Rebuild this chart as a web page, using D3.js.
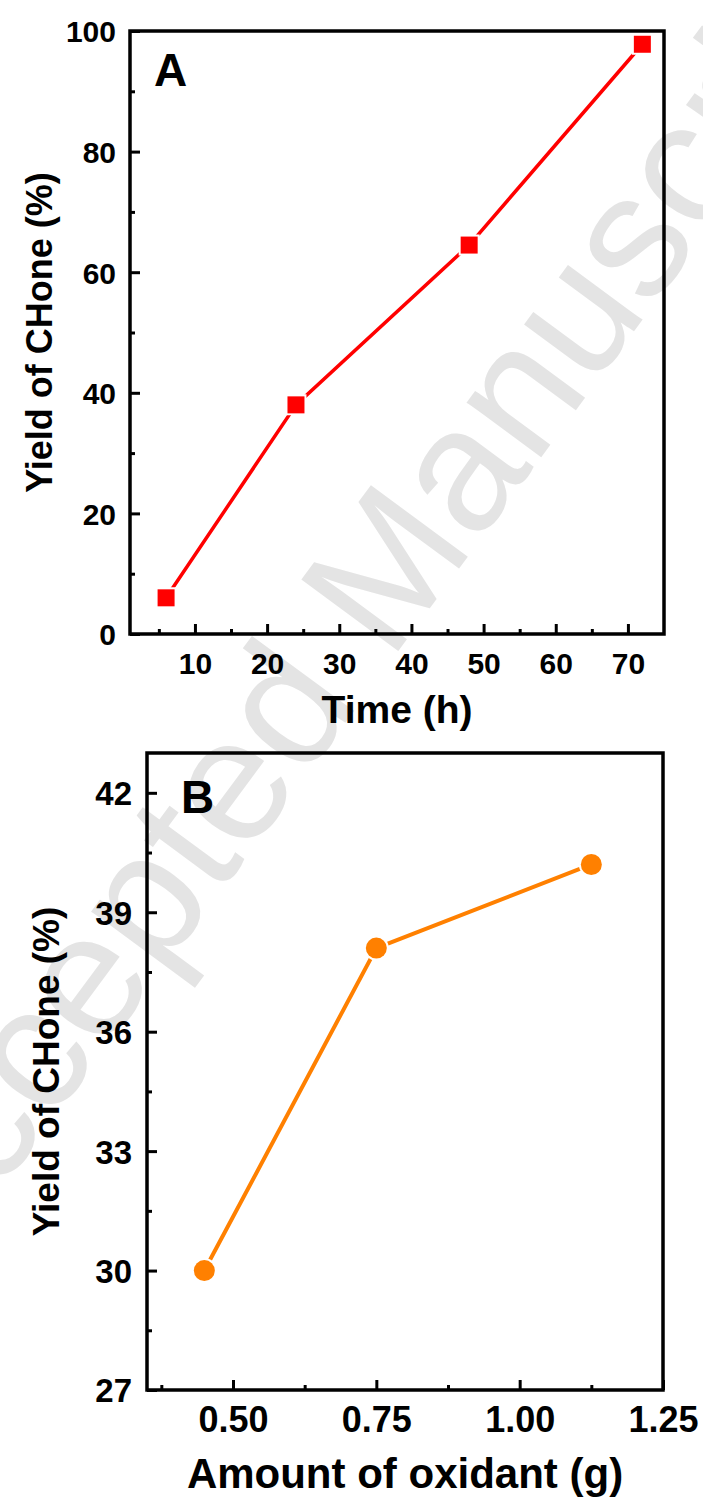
<!DOCTYPE html>
<html>
<head>
<meta charset="utf-8">
<script src="https://cdn.jsdelivr.net/npm/d3@7"></script>
<style>
  html, body { margin: 0; padding: 0; background: #fff; }
  svg { display: block; }
  text { font-family: Arial, "Liberation Sans", sans-serif; }
  .tick text { font-family: Arial, "Liberation Sans", sans-serif; font-weight: bold; fill: #000; }
  .ttl { font-weight: bold; fill: #000; }
</style>
</head>
<body>
<div id="chart"></div>
<script>
/* yield of CHone vs time (A) and vs amount of oxidant (B) */

const TIME_H = [6, 24, 48, 72];
const YIELD_BY_TIME = [6.0, 38.0, 64.5, 97.8];
const OXIDANT_G = [0.45, 0.75, 1.125];
const YIELD_BY_OXIDANT = [30.0, 38.1, 40.2];

const TIME_TICKS = [10, 20, 30, 40, 50, 60, 70];
const TIME_MINOR = [5, 15, 25, 35, 45, 55, 65];
const YA_TICKS = [0, 20, 40, 60, 80, 100];
const YA_MINOR = [10, 30, 50, 70, 90];
const OX_TICKS = [0.5, 0.75, 1.0, 1.25];
const OX_MINOR = [0.375, 0.625, 0.875, 1.125];
const YB_TICKS = [27, 30, 33, 36, 39, 42];
const YB_MINOR = [28.5, 31.5, 34.5, 37.5, 40.5];

const W = 703, H = 1500;
const RED = '#FF0000';
const ORANGE = '#FF8000';
const WATER = '#E4E4E4';

const svg = d3.select('#chart').append('svg')
  .attr('width', W).attr('height', H)
  .attr('viewBox', `0 0 ${W} ${H}`);

/* watermark sits under everything; starts off the left edge like the scan */
svg.append('text')
  .attr('transform', 'translate(-72,1289) rotate(-53.6)')
  .attr('font-size', 175)
  .attr('fill', WATER)
  .text('Accepted Manuscript');

function panel(o) {
  const g = svg.append('g');
  const x = d3.scaleLinear().domain(o.xDomain).range([o.left, o.right]);
  const y = d3.scaleLinear().domain(o.yDomain).range([o.bottom, o.top]);

  /* inward ticks, left and bottom only */
  const ax = (axis, sel) => sel.call(axis).call((s) => s.select('.domain').remove());
  ax(d3.axisBottom(x).tickValues(o.xMinor).tickSize(-5).tickFormat(''),
    g.append('g').attr('transform', `translate(0,${o.bottom})`));
  ax(d3.axisLeft(y).tickValues(o.yMinor).tickSize(-5).tickFormat(''),
    g.append('g').attr('transform', `translate(${o.left},0)`));

  const xa = g.append('g').attr('transform', `translate(0,${o.bottom})`);
  ax(d3.axisBottom(x).tickValues(o.xTicks).tickSize(-10).tickFormat(o.xFmt), xa);
  xa.selectAll('text').attr('font-size', o.xTickSize).attr('dy', 0)
    .attr('y', o.xLabelBase);

  const ya = g.append('g').attr('transform', `translate(${o.left},0)`);
  ax(d3.axisLeft(y).tickValues(o.yTicks).tickSize(-10).tickPadding(o.yPad)
    .tickFormat(d3.format('d')), ya);
  ya.selectAll('text').attr('font-size', o.yTickSize).attr('dy', '0.36em');

  g.selectAll('.tick line').attr('stroke', '#000').attr('stroke-width', 3);

  g.append('rect')
    .attr('x', o.left).attr('y', o.top)
    .attr('width', o.right - o.left).attr('height', o.bottom - o.top)
    .attr('fill', 'none').attr('stroke', '#000').attr('stroke-width', 3.5);

  const pts = o.xs.map((v, i) => [v, o.ys[i]]);
  g.append('path')
    .datum(pts)
    .attr('fill', 'none')
    .attr('stroke', o.color)
    .attr('stroke-width', o.lineW)
    .attr('d', d3.line().x((d) => x(d[0])).y((d) => y(d[1])));

  const sym = d3.symbol().type(o.marker).size(o.markerArea);
  g.append('g').selectAll('path').data(pts).join('path')
    .attr('transform', (d) => `translate(${x(d[0])},${y(d[1])})`)
    .attr('d', sym)
    .attr('fill', o.color)
    .attr('stroke', '#fff').attr('stroke-width', 4)
    .style('paint-order', 'stroke');

  /* panel letter */
  g.append('text').attr('class', 'ttl')
    .attr('x', o.letterX).attr('y', o.letterY)
    .attr('font-size', 46).text(o.letter);

  g.append('text').attr('class', 'ttl')
    .attr('x', (o.left + o.right) / 2).attr('y', o.xTitleY)
    .attr('text-anchor', 'middle').attr('font-size', o.xTitleSize)
    .text(o.xTitle);

  g.append('text').attr('class', 'ttl')
    .attr('transform', `translate(${o.yTitleX},${(o.top + o.bottom) / 2}) rotate(-90)`)
    .attr('text-anchor', 'middle').attr('font-size', o.yTitleSize)
    .text(o.yTitle);
}

panel({
  left: 130, right: 664, top: 31, bottom: 634,
  xDomain: [1, 75], yDomain: [0, 100],
  xTicks: TIME_TICKS, xMinor: TIME_MINOR, yTicks: YA_TICKS, yMinor: YA_MINOR,
  xFmt: d3.format('d'), yPad: 14,
  xTickSize: 30, yTickSize: 30, xLabelBase: 40,
  xs: TIME_H, ys: YIELD_BY_TIME, color: RED, lineW: 3.5,
  marker: d3.symbolSquare, markerArea: 17 * 17,
  letter: 'A', letterX: 154, letterY: 86,
  xTitle: 'Time (h)', xTitleY: 723, xTitleSize: 39,
  yTitle: 'Yield of CHone (%)', yTitleX: 52, yTitleSize: 36
});

panel({
  left: 147, right: 663, top: 753, bottom: 1390,
  xDomain: [0.35, 1.25], yDomain: [27, 43],
  xTicks: OX_TICKS, xMinor: OX_MINOR, yTicks: YB_TICKS, yMinor: YB_MINOR,
  xFmt: d3.format('.2f'), yPad: 15,
  xTickSize: 36, yTickSize: 33, xLabelBase: 42,
  xs: OXIDANT_G, ys: YIELD_BY_OXIDANT, color: ORANGE, lineW: 4,
  marker: d3.symbolCircle, markerArea: Math.PI * 10.5 * 10.5,
  letter: 'B', letterX: 181, letterY: 813,
  xTitle: 'Amount of oxidant (g)', xTitleY: 1488, xTitleSize: 42,
  yTitle: 'Yield of CHone (%)', yTitleX: 59, yTitleSize: 37
});
</script>
</body>
</html>
